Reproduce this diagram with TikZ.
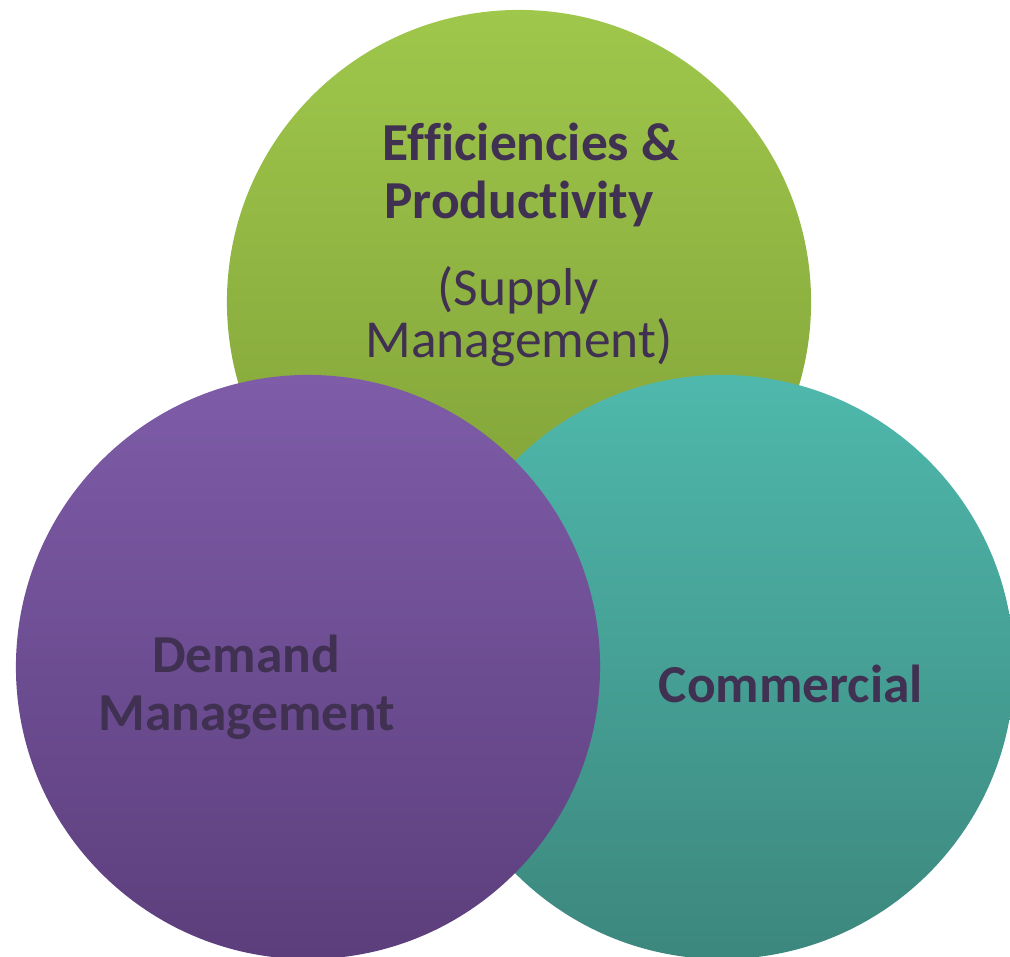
\documentclass[tikz,border=0pt]{standalone}
\usepackage{fontspec}
\setmainfont[Ligatures=NoCommon]{Carlito}
\definecolor{txt}{HTML}{403152}
\definecolor{gtop}{HTML}{9FC74B}
\definecolor{gbot}{HTML}{7E9E37}
\definecolor{ptop}{HTML}{7E5CA8}
\definecolor{pbot}{HTML}{5C3E7C}
\definecolor{ttop}{HTML}{4FB8AC}
\definecolor{tbot}{HTML}{3C877D}
\begin{document}
\begin{tikzpicture}[x=0.025cm,y=-0.025cm,
  disc/.style={circle,inner sep=0pt,minimum size=14.6cm},
  lbl/.style={anchor=base,inner sep=0pt,text=txt,font=\fontsize{38}{45}\selectfont},
  blbl/.style={lbl,font=\fontsize{38}{45}\selectfont\bfseries}]
\useasboundingbox (0,0) rectangle (1010,956);
\node[disc,top color=gtop,bottom color=gbot] (green) at (519,302) {};
\node[disc,top color=ttop,bottom color=tbot] (teal) at (722,667) {};
\node[disc,top color=ptop,bottom color=pbot] (purple) at (308,667) {};
\node[blbl] (e1) at (531,160) {Efficiencies \&};
\node[blbl] (e2) at (519,218) {Productivity};
\node[lbl] (s1) at (518,305) {(Supply};
\node[lbl] (s2) at (519,357) {Management)};
\node[blbl] (d1) at (246,672) {Demand};
\node[blbl] (d2) at (247,730) {Management};
\node[blbl] (c1) at (791,702) {Commercial};
\end{tikzpicture}
\end{document}
